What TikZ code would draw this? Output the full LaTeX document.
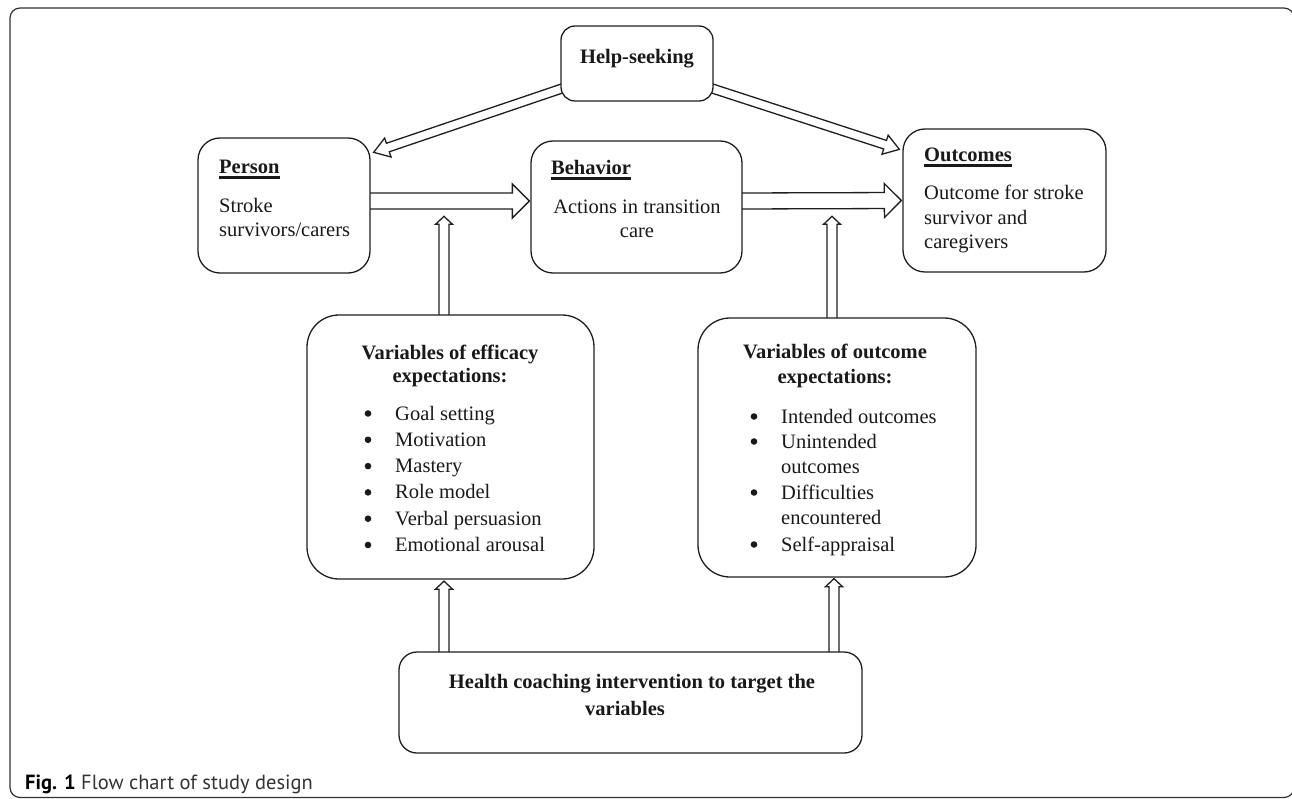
\documentclass[tikz,border=0pt]{standalone}
\usepackage{fontspec}
\setmainfont{Liberation Serif}
\newfontfamily\capfont{PT Sans}
\usetikzlibrary{calc,backgrounds}
\tikzset{
  box/.style={draw=black!88, line width=1.3pt, fill=white, rounded corners=#1, inner sep=0pt},
  box/.default=20pt,
  txt/.style={inner sep=0pt, font=\fontsize{20.5}{24}\selectfont, text=black!90},
  btxt/.style={inner sep=0pt, font=\fontsize{20.5}{24}\selectfont\bfseries, text=black!90},
  arr/.style={draw=black!88, line width=1.3pt, fill=white, line join=miter},
  ulline/.style={line width=2.2pt, black!90},
  frame/.style={draw=black!80, line width=1.2pt, rounded corners=10pt},
  bul/.style={circle, fill=black!90, inner sep=0pt, minimum size=6.6pt},
}
% hollow block arrow: from, to, half shaft, half head, head length
\newcommand\harrow[5]{%
  \coordinate (hH) at ($(#2)!#5!(#1)$);
  \draw[arr] ($(#1)!#3!90:(#2)$) -- ($(hH)!#3!90:(#2)$) -- ($(hH)!#4!90:(#2)$)
    -- (#2) -- ($(hH)!#4!-90:(#2)$) -- ($(hH)!#3!-90:(#2)$) -- ($(#1)!#3!-90:(#2)$) -- cycle;
}
\begin{document}
\begin{tikzpicture}[x=1pt,y=-1pt]
\useasboundingbox (0,0) rectangle (1292,799);

% boxes
\node[box=14pt, minimum width=152pt, minimum height=75pt] (help) at (637,63.5) {};
\node[box=22pt, minimum width=172pt, minimum height=135pt] (per) at (284,205.5) {};
\node[box=22pt, minimum width=211pt, minimum height=132pt] (beh) at (636.5,207) {};
\node[box=22pt, minimum width=203pt, minimum height=143pt] (out) at (1004.5,200.5) {};
\node[box=32pt, minimum width=287pt, minimum height=264pt] (eff) at (450.5,447) {};
\node[box=32pt, minimum width=278pt, minimum height=259pt] (oexp) at (837,447.5) {};
\node[box=18pt, minimum width=463pt, minimum height=101pt] (hc) at (630.5,702.5) {};

% arrow end points
\coordinate (d1s) at ([shift={(6pt,-23.5pt)}]help.west);
\coordinate (d1e) at ([shift={(3pt,-15pt)}]per.north east);
\coordinate (d2s) at ([shift={(-6pt,-23.5pt)}]help.east);
\coordinate (d2e) at ([shift={(-3pt,-21pt)}]out.north west);
\coordinate (h1s) at ([shift={(-2pt,4.5pt)}]per.east);
\coordinate (h1e) at ([shift={(-1pt,6pt)}]beh.west);
\coordinate (h2s) at ([shift={(-2pt,6pt)}]beh.east);
\coordinate (h2e) at ([shift={(-1pt,0pt)}]out.west);
\coordinate (v1s) at ([shift={(-6.5pt,-2pt)}]eff.north);
\coordinate (v1e) at ([shift={(-6.5pt,98pt)}]eff.north);
\coordinate (v2s) at ([shift={(-5pt,-2pt)}]oexp.north);
\coordinate (v2e) at ([shift={(-5pt,101pt)}]oexp.north);
\coordinate (v3s) at ([shift={(-186.5pt,-2pt)}]hc.north);
\coordinate (v3e) at ([shift={(-6.5pt,-1.5pt)}]eff.south);
\coordinate (v4s) at ([shift={(203.5pt,-2pt)}]hc.north);
\coordinate (v4e) at ([shift={(-3pt,-1pt)}]oexp.south);

\begin{scope}[on background layer]
  \draw[frame] (10,8) rectangle (1294,797.5);
  \harrow{d1s}{d1e}{4.5pt}{10pt}{15pt}
  \harrow{d2s}{d2e}{4.5pt}{10pt}{15pt}
  \harrow{h1s}{h1e}{8pt}{17pt}{17pt}
  \harrow{h2s}{h2e}{8pt}{17pt}{17pt}
  \harrow{v1s}{v1e}{5pt}{8.5pt}{8pt}
  \harrow{v2s}{v2e}{5pt}{8.5pt}{8pt}
  \harrow{v3s}{v3e}{5pt}{8.5pt}{8pt}
  \harrow{v4s}{v4e}{5pt}{8.5pt}{8pt}
\end{scope}

% texts
\node[btxt, anchor=base] (helpT) at (637,64) {Help-seeking};

\node[btxt, anchor=base west] (perT) at (219,174) {Person};
\draw[ulline] ([yshift=-3.5pt]perT.base west) -- ([yshift=-3.5pt]perT.base east);
\node[txt, anchor=base west] (perL1) at (219,213) {Stroke};
\node[txt, anchor=base west] (perL2) at (219,237) {survivors/carers};

\node[btxt, anchor=base west] (behT) at (551,175) {Behavior};
\draw[ulline] ([yshift=-3.5pt]behT.base west) -- ([yshift=-3.5pt]behT.base east);
\node[txt, anchor=base] (behL1) at (637,214) {Actions in transition};
\node[txt, anchor=base] (behL2) at (637,238) {care};

\node[btxt, anchor=base west] (outT) at (924,162) {Outcomes};
\draw[ulline] ([yshift=-3.5pt]outT.base west) -- ([yshift=-3.5pt]outT.base east);
\node[txt, anchor=base west] (outL1) at (924,200) {Outcome for stroke};
\node[txt, anchor=base west] (outL2) at (924,224.5) {survivor and};
\node[txt, anchor=base west] (outL3) at (924,249) {caregivers};

\node[btxt, anchor=base] (effT1) at (450,359) {Variables of efficacy};
\node[btxt, anchor=base] (effT2) at (450,382) {expectations:};
\foreach \t [count=\i] in {Goal setting, Motivation, Mastery, Role model, Verbal persuasion, Emotional arousal}{
  \node[bul] (effB\i) at (368,{420-6.5+26.3*(\i-1)}) {};
  \node[txt, anchor=base west] (effI\i) at (395,{420+26.3*(\i-1)}) {\t};
}

\node[btxt, anchor=base] (oxT1) at (835,358) {Variables of outcome};
\node[btxt, anchor=base] (oxT2) at (835,383) {expectations:};
\node[bul] (oxB1) at (754,416.5) {};
\node[txt, anchor=base west] (oxI1) at (781,423) {Intended outcomes};
\node[bul] (oxB2) at (754,441.5) {};
\node[txt, anchor=base west] (oxI2) at (781,448) {Unintended};
\node[txt, anchor=base west] (oxI2b) at (781,473) {outcomes};
\node[bul] (oxB3) at (754,492.5) {};
\node[txt, anchor=base west] (oxI3) at (781,499) {Difficulties};
\node[txt, anchor=base west] (oxI3b) at (781,524) {encountered};
\node[bul] (oxB4) at (754,544.5) {};
\node[txt, anchor=base west] (oxI4) at (781,551) {Self-appraisal};

\node[btxt, anchor=base] (hcL1) at (632,688) {Health coaching intervention to target the};
\node[btxt, anchor=base] (hcL2) at (625,715) {variables};

\node[anchor=base west, inner sep=0pt, font=\capfont\fontsize{20.5}{22}\selectfont, text=black!80] (cap) at (25,789) {\textbf{\color{black}Fig. 1} Flow chart of study design};
\end{tikzpicture}
\end{document}
